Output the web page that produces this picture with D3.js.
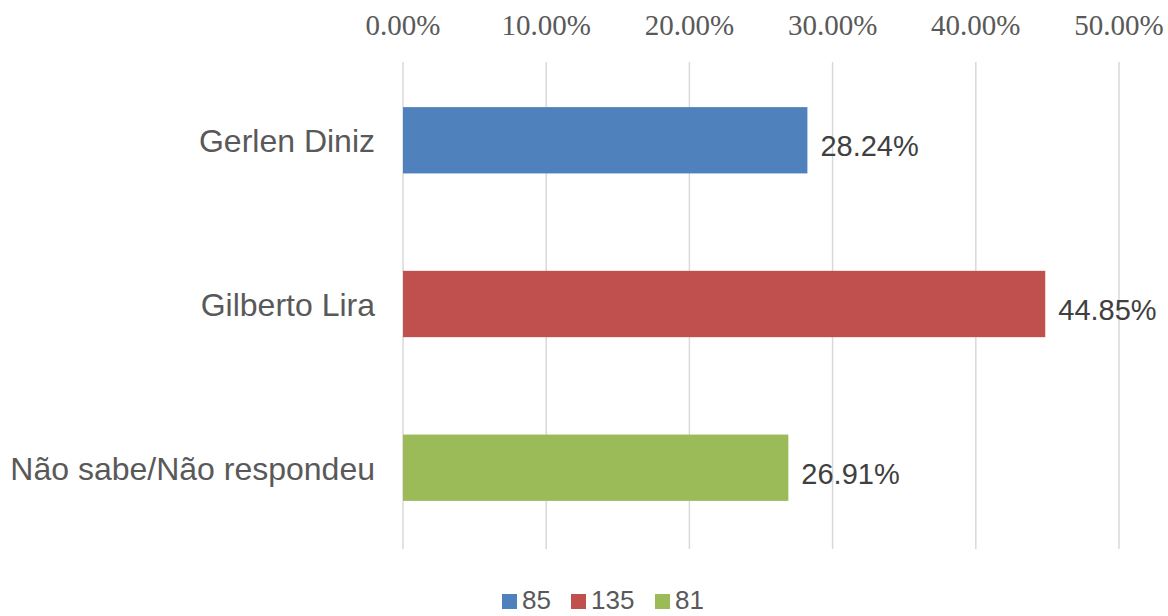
<!DOCTYPE html>
<html>
<head>
<meta charset="utf-8">
<script src="https://cdn.jsdelivr.net/npm/d3@7"></script>
<style>
body { margin: 0; background: #fff; }
svg { display: block; }
</style>
</head>
<body>
<script>
var categories = ['Gerlen Diniz', 'Gilberto Lira', 'Não sabe/Não respondeu'];
var values = [0.2824, 0.4485, 0.2691];
var legendLabels = ['85', '135', '81'];
var colors = ['#4f81bd', '#c0504d', '#9bbb59'];
var ticks = [0, 0.1, 0.2, 0.3, 0.4, 0.5];

var W = 1168, H = 616;
var svg = d3.select('body').append('svg').attr('width', W).attr('height', H);

var x = d3.scaleLinear().domain([0, 0.5]).range([403, 1119]);
var y = d3.scaleBand().domain(categories).range([58, 550]).paddingInner(0.595).paddingOuter(0.3);

// gridlines
svg.append('g').selectAll('line').data(ticks).enter().append('line')
	.attr('x1', function(d){ return x(d); })
	.attr('x2', function(d){ return x(d); })
	.attr('y1', 62).attr('y2', 549)
	.style('stroke', '#d9d9d9').style('stroke-width', '1.5px');

// top axis labels
var fmt = d3.format('.2%');
svg.append('g').selectAll('text').data(ticks).enter().append('text')
	.attr('x', function(d){ return x(d); })
	.attr('y', 35)
	.attr('text-anchor', 'middle')
	.style('font-family', '"Liberation Serif", "DejaVu Serif", serif')
	.style('font-size', '29px')
	.style('fill', '#595959')
	.text(function(d){ return fmt(d); });

// bars
svg.append('g').selectAll('rect').data(values).enter().append('rect')
	.attr('x', x(0))
	.attr('y', function(d, i){ return y(categories[i]); })
	.attr('width', function(d){ return x(d) - x(0); })
	.attr('height', y.bandwidth())
	.style('fill', function(d, i){ return colors[i]; });

// value labels
svg.append('g').selectAll('text').data(values).enter().append('text')
	.attr('x', function(d){ return x(d) + 13; })
	.attr('y', function(d, i){ return y(categories[i]) + y.bandwidth() / 2 + 16; })
	.style('font-family', '"Liberation Sans", Arial, sans-serif')
	.style('font-size', '29px')
	.style('fill', '#404040')
	.text(function(d){ return fmt(d); });

// category labels
svg.append('g').selectAll('text').data(categories).enter().append('text')
	.attr('x', 375)
	.attr('y', function(d){ return y(d) + y.bandwidth() / 2 + 12; })
	.attr('text-anchor', 'end')
	.style('font-family', '"Liberation Sans", Arial, sans-serif')
	.style('font-size', '32px')
	.style('fill', '#595959')
	.text(function(d){ return d; });

// legend
var legendX = [502, 571, 655];
var lg = svg.append('g').selectAll('g').data(legendLabels).enter().append('g')
	.attr('transform', function(d, i){ return 'translate(' + legendX[i] + ',0)'; });
lg.append('rect')
	.attr('x', 0).attr('y', 594).attr('width', 15).attr('height', 15)
	.style('fill', function(d, i){ return colors[i]; });
lg.append('text')
	.attr('x', 20).attr('y', 609)
	.style('font-family', '"Liberation Sans", Arial, sans-serif')
	.style('font-size', '26px')
	.style('fill', '#595959')
	.text(function(d){ return d; });
</script>
</body>
</html>
